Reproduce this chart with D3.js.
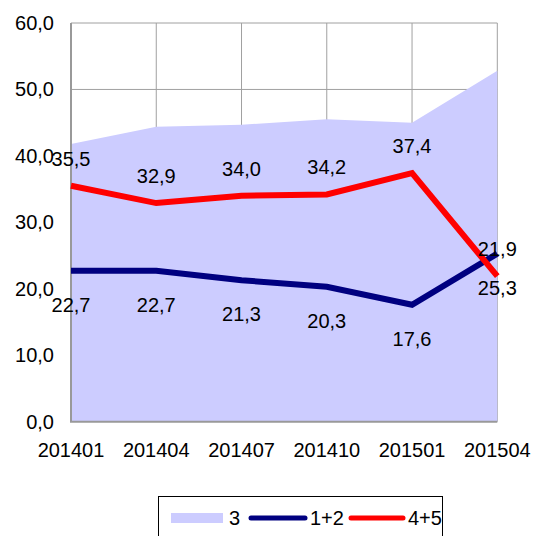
<!DOCTYPE html>
<html>
<head>
<meta charset="utf-8">
<script src="https://cdn.jsdelivr.net/npm/d3@7"></script>
<style>
  body { margin: 0; background: #fff; }
  text { font-family: "Liberation Sans", Arial, sans-serif; font-size: 20px; fill: #000; }
</style>
</head>
<body>
<svg width="537" height="536"></svg>
<script>
const periods = ['201401', '201404', '201407', '201410', '201501', '201504'];
const share3 = [41.8, 44.4, 44.7, 45.5, 45.0, 52.8];
const share12 = [22.7, 22.7, 21.3, 20.3, 17.6, 25.3];
const share45 = [35.5, 32.9, 34.0, 34.2, 37.4, 21.9];
const yTicks = [0, 10, 20, 30, 40, 50, 60];

const margin = { top: 23, right: 40, bottom: 115, left: 71 };
const width = 537, height = 536;
const svg = d3.select('svg');
const fmt = v => d3.format('.1f')(v).replace('.', ',');

const x = d3.scalePoint()
  .domain(periods)
  .range([margin.left, width - margin.right + 0.3]);
const y = d3.scaleLinear()
  .domain([0, 60])
  .range([height - margin.bottom + 0.7, margin.top]);

// grid
svg.append('g')
  .selectAll('line.h')
  .data(yTicks.slice(1))
  .enter().append('line')
  .attr('x1', x.range()[0]).attr('x2', x.range()[1])
  .attr('y1', d => y(d)).attr('y2', d => y(d))
  .attr('stroke', '#a0a0a0').attr('stroke-width', 1);
svg.append('g')
  .selectAll('line.v')
  .data(periods.slice(1))
  .enter().append('line')
  .attr('x1', d => x(d)).attr('x2', d => x(d))
  .attr('y1', y(60)).attr('y2', y(0))
  .attr('stroke', '#a0a0a0').attr('stroke-width', 1);

// area "3"
const area = d3.area()
  .x((d, i) => x(periods[i]))
  .y0(y(0))
  .y1(d => y(d));
svg.append('path')
  .datum(share3)
  .attr('d', area)
  .attr('fill', '#ccccff');

// axes lines
svg.append('line')
  .attr('x1', x.range()[0]).attr('x2', x.range()[0])
  .attr('y1', y(60)).attr('y2', y(0))
  .attr('stroke', '#999').attr('stroke-width', 2);
svg.append('line')
  .attr('x1', x.range()[0] - 1).attr('x2', x.range()[1])
  .attr('y1', y(0)).attr('y2', y(0))
  .attr('stroke', '#999').attr('stroke-width', 2);

// tick labels
svg.append('g')
  .selectAll('text')
  .data(yTicks)
  .enter().append('text')
  .attr('x', 54)
  .attr('y', d => y(d))
  .attr('dy', '0.35em')
  .attr('text-anchor', 'end')
  .text(fmt);
svg.append('g')
  .selectAll('text')
  .data(periods)
  .enter().append('text')
  .attr('x', d => x(d))
  .attr('y', y(0) + 35.5)
  .attr('text-anchor', 'middle')
  .text(d => d);

// lines
const line = d3.line()
  .x((d, i) => x(periods[i]))
  .y(d => y(d));
svg.append('path')
  .datum(share12)
  .attr('d', line)
  .attr('fill', 'none')
  .attr('stroke', '#000080')
  .attr('stroke-width', 6);
svg.append('path')
  .datum(share45)
  .attr('d', line)
  .attr('fill', 'none')
  .attr('stroke', '#ff0000')
  .attr('stroke-width', 6);

// data labels
svg.append('g')
  .selectAll('text')
  .data(share12)
  .enter().append('text')
  .attr('x', (d, i) => x(periods[i]))
  .attr('y', d => y(d) + 41)
  .attr('text-anchor', 'middle')
  .text(fmt);
svg.append('g')
  .selectAll('text')
  .data(share45)
  .enter().append('text')
  .attr('x', (d, i) => x(periods[i]))
  .attr('y', d => y(d) - 20)
  .attr('text-anchor', 'middle')
  .text(fmt);

// legend
const lg = svg.append('g');
lg.append('rect')
  .attr('x', 158.5).attr('y', 496.5)
  .attr('width', 284).attr('height', 60)
  .attr('fill', '#fff').attr('stroke', '#000').attr('stroke-width', 1);
lg.append('rect')
  .attr('x', 171).attr('y', 513)
  .attr('width', 52).attr('height', 10)
  .attr('fill', '#ccccff');
lg.append('text').attr('x', 229).attr('y', 525).text('3');
lg.append('line')
  .attr('x1', 251).attr('x2', 305).attr('y1', 518).attr('y2', 518)
  .attr('stroke', '#000080').attr('stroke-width', 5).attr('stroke-linecap', 'round');
lg.append('text').attr('x', 310).attr('y', 525).text('1+2');
lg.append('line')
  .attr('x1', 351).attr('x2', 403).attr('y1', 518).attr('y2', 518)
  .attr('stroke', '#ff0000').attr('stroke-width', 5).attr('stroke-linecap', 'round');
lg.append('text').attr('x', 408).attr('y', 525).text('4+5');
</script>
</body>
</html>
